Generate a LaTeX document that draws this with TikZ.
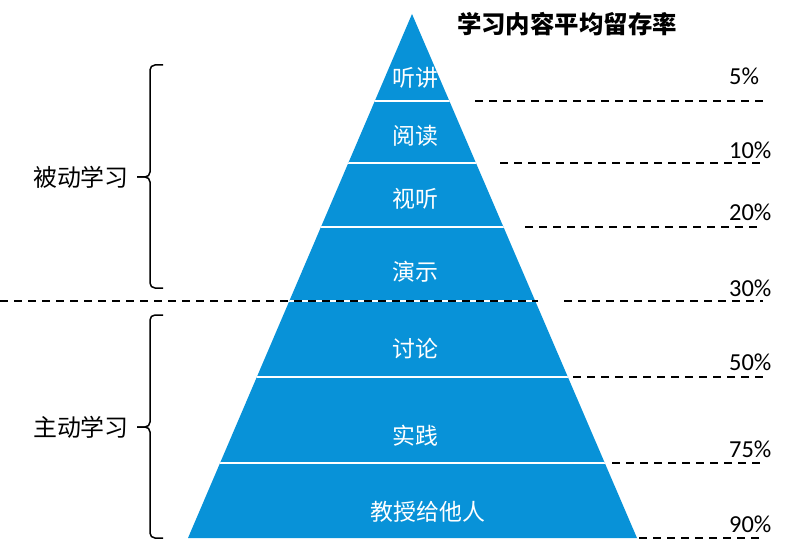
\documentclass[tikz,border=0pt]{standalone}
\usepackage{fontspec}
\setmainfont{Carlito}
\newfontfamily\cjk{Noto Sans CJK SC}
\usetikzlibrary{positioning}
\definecolor{pyrblue}{RGB}{8,146,216}
\tikzset{
  layer/.style={text=white,inner sep=0pt,font=\cjk\fontsize{23}{26}\selectfont},
  side/.style={inner sep=0pt,font=\cjk\fontsize{24}{27}\selectfont},
  headline/.style={inner sep=0pt,font=\cjk\bfseries\fontsize{24.5}{27}\selectfont},
  rate/.style={anchor=west,inner sep=0pt,font=\fontsize{24.5}{27}\selectfont},
  guide/.style={dash pattern=on 8bp off 6bp,line width=1.6bp},
  divider/.style={white,line width=2bp},
  bracket/.style={line width=1.5bp,rounded corners=5bp},
}
\begin{document}
\begin{tikzpicture}[x=1bp,y=-1bp,line join=bevel]
  \useasboundingbox (0,0) rectangle (787,554);
%%
  % Node: pyramid
  \coordinate (apex) at (412,14);
  \coordinate (baseL) at (188,538);
  \coordinate (baseR) at (637,538);
  \fill[pyrblue] (apex) -- (baseR) -- (baseL) -- cycle;
\begin{scope}
  \clip (apex) -- (baseR) -- (baseL) -- cycle;
  \draw[divider] (150,101) -- (700,101);
  \draw[divider] (150,163) -- (700,163);
  \draw[divider] (150,227) -- (700,227);
  \draw[divider] (150,301) -- (700,301);
  \draw[divider] (150,377) -- (700,377);
  \draw[divider] (150,463) -- (700,463);
\end{scope}
  % Node: title
  \node[headline] (title) at (567,24) {学习内容平均留存率};
  % Node: layers
  \node[layer] (lecture) at (415,78) {听讲};
  \node[layer] (reading) at (415,136) {阅读};
  \node[layer] (av) at (415,199) {视听};
  \node[layer] (demo) at (415,272) {演示};
  \node[layer] (discuss) at (415,349) {讨论};
  \node[layer] (practice) at (415,436) {实践};
  \node[layer] (teach) at (428,512) {教授给他人};
  % Node: rates
  \node[rate] (r5) at (729,76) {5\%};
  \node[rate] (r10) at (729,150) {10\%};
  \node[rate] (r20) at (729,212) {20\%};
  \node[rate] (r30) at (729,288) {30\%};
  \node[rate] (r50) at (729,362) {50\%};
  \node[rate] (r75) at (729,449) {75\%};
  \node[rate] (r90) at (729,524) {90\%};
  % Edge: lecture -> 5%
  \coordinate (g5a) at (475,101);
  \coordinate (g5b) at (763,101);
  \draw[guide] (g5a) -- (g5b);
  % Edge: reading -> 10%
  \coordinate (g10a) at (500,163);
  \coordinate (g10b) at (763,163);
  \draw[guide] (g10a) -- (g10b);
  % Edge: av -> 20%
  \coordinate (g20a) at (525,227);
  \coordinate (g20b) at (763,227);
  \draw[guide] (g20a) -- (g20b);
  % Edge: demo -> 30%
  \coordinate (splitL) at (0,301);
  \coordinate (splitR) at (538,301);
  \draw[guide] (splitL) -- (splitR);
  \coordinate (g30a) at (564,301);
  \coordinate (g30b) at (763,301);
  \draw[guide] (g30a) -- (g30b);
  % Edge: discuss -> 50%
  \coordinate (g50a) at (573,377);
  \coordinate (g50b) at (763,377);
  \draw[guide] (g50a) -- (g50b);
  % Edge: practice -> 75%
  \coordinate (g75a) at (612,463);
  \coordinate (g75b) at (763,463);
  \draw[guide] (g75a) -- (g75b);
  % Edge: teach -> 90%
  \coordinate (g90a) at (639,538);
  \coordinate (g90b) at (760,538);
  \draw[guide] (g90a) -- (g90b);
  % Node: passive
  \node[side,anchor=east] (passive) at (129,177) {被动学习};
  \draw[bracket] (163,65) -- (150,65) -- (150,177) -- ([xshift=8bp]passive.east);
  \draw[bracket] ([xshift=8bp]passive.east) -- (150,177) -- (150,288) -- (163,288);
  % Node: active
  \node[side,anchor=east] (active) at (129,427) {主动学习};
  \draw[bracket] (163,315) -- (150,315) -- (150,427) -- ([xshift=8bp]active.east);
  \draw[bracket] ([xshift=8bp]active.east) -- (150,427) -- (150,538) -- (163,538);
%
\end{tikzpicture}
\end{document}
